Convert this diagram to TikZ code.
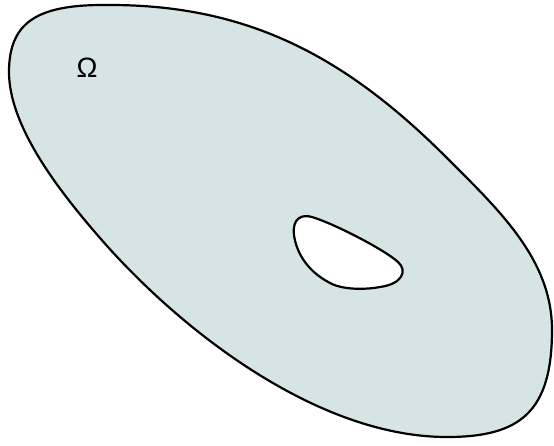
\documentclass[tikz,border=0pt]{standalone}
\usepackage{fontspec}
\setmainfont{Liberation Sans}
\definecolor{domfill}{RGB}{214,228,228}
\tikzset{regionstyle/.style={draw=black, line width=2.2pt, fill=domfill, even odd rule, line join=round}}
\begin{document}
\begin{tikzpicture}[x=1pt,y=-1pt]
\useasboundingbox (0,0) rectangle (554,445);
% outer boundary and hole
\path[regionstyle]
  (9,72) .. controls (9,20) and (40,4) .. (110,5)
  .. controls (250,5) and (347,58) .. (447,158)
  .. controls (500,211) and (552,260) .. (552,330)
  .. controls (552,412) and (520,437) .. (447,437)
  .. controls (317,437) and (180,330) .. (100,238)
  .. controls (60,192) and (9,127) .. (9,72) -- cycle
  (294,235) .. controls (292,218) and (302,214) .. (312,217)
  .. controls (335,224) and (385,250) .. (398,262)
  .. controls (408,271) and (402,284) .. (380,287)
  .. controls (370,289) and (345,291) .. (330,283)
  .. controls (305,270) and (296,250) .. (294,235) -- cycle;
\node[font=\fontsize{28}{30}\selectfont] (omega) at (87,68) {Ω};
\end{tikzpicture}
\end{document}
